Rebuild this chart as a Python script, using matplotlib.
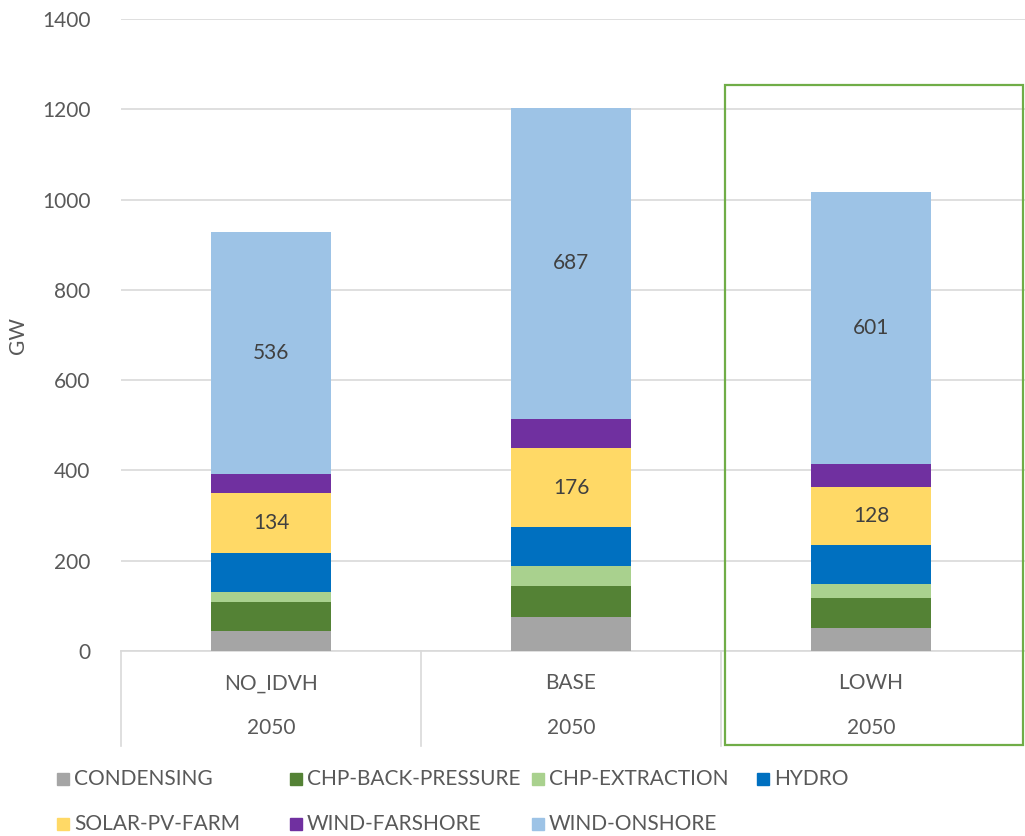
import numpy as np
import matplotlib.pyplot as plt
from matplotlib.patches import Rectangle
from matplotlib.transforms import blended_transform_factory

plt.rcParams['font.family'] = ['Lato', 'DejaVu Sans']

scenarios = ['NO_IDVH', 'BASE', 'LOWH']
years = ['2050', '2050', '2050']
techs = ['CONDENSING', 'CHP-BACK-PRESSURE', 'CHP-EXTRACTION', 'HYDRO',
         'SOLAR-PV-FARM', 'WIND-FARSHORE', 'WIND-ONSHORE']
colors = ['#A5A5A5', '#548235', '#A9D18E', '#0070C0',
          '#FFD966', '#7030A0', '#9DC3E6']

# installed capacity, GW
condensing = [44, 75, 50]
chp_bp = [64, 70, 67]
chp_ext = [23, 43, 31]
hydro = [86, 86, 87]
solar = [134, 176, 128]
farshore = [42, 65, 52]
onshore = [536, 687, 601]
labelled = {'SOLAR-PV-FARM', 'WIND-ONSHORE'}

series = [condensing, chp_bp, chp_ext, hydro, solar, farshore, onshore]

txt = '#595959'
W, H = 1025, 836
fig = plt.figure(figsize=(W / 100, H / 100), dpi=100)
ax = fig.add_axes([121 / W, (H - 651) / H, 904 / W, 632 / H])

x = np.arange(len(scenarios))
bottom = np.zeros(len(scenarios))
for name, vals, c in zip(techs, series, colors):
    vals = np.array(vals, dtype=float)
    ax.bar(x, vals, 0.4, bottom=bottom, color=c, label=name, zorder=3)
    if name in labelled:
        for xi, b, v in zip(x, bottom, vals):
            ax.text(xi, b + v / 2, f'{v:.0f}', ha='center', va='center',
                    fontsize=15, color='#404040', zorder=4)
    bottom += vals

ax.set_xlim(-0.5, 2.513)
ax.set_ylim(0, 1400)
ax.set_yticks(range(0, 1401, 200))
ax.yaxis.grid(True, color='#D9D9D9', lw=1.2, zorder=0)
ax.tick_params(axis='y', length=0, labelsize=15, labelcolor=txt, pad=22)
ax.set_xticks([])
for s in ['top', 'right', 'left']:
    ax.spines[s].set_visible(False)
ax.spines['bottom'].set_color('#D9D9D9')
ax.spines['bottom'].set_linewidth(1.2)
ax.set_ylabel('GW', fontsize=15, color=txt)
ax.yaxis.set_label_coords(-93 / 904, 0.5)

# two-level category axis
tr = blended_transform_factory(ax.transData, ax.transAxes)
for xi, sc, yr in zip(x, scenarios, years):
    ax.text(xi, -0.051, sc, transform=tr, ha='center', va='center',
            fontsize=15, color=txt)
    ax.text(xi, -0.122, yr, transform=tr, ha='center', va='center',
            fontsize=15, color=txt)
for xs in [-0.5, 0.5, 1.5]:
    ax.plot([xs, xs], [0, -0.15], transform=tr, color='#D9D9D9', lw=1.2,
            clip_on=False)

# highlight box around the last scenario
ax.add_patch(Rectangle((1.513, -0.149), 0.994, 0.896 + 0.149, transform=tr,
                       fill=False, edgecolor='#70AD47', lw=1.6,
                       clip_on=False, zorder=5))

# legend laid out row by row, four slots per row
col_x = [57, 290, 532, 757]
row_y = [779, 824]
for i, (name, c) in enumerate(zip(techs, colors)):
    px, py = col_x[i % 4], row_y[i // 4]
    fig.patches.append(Rectangle((px / W, (H - py - 6) / H), 12 / W, 12 / H,
                                 transform=fig.transFigure, color=c))
    fig.text((px + 17) / W, (H - py) / H, name, ha='left', va='center',
             fontsize=15, color=txt)

fig.savefig('out.png', dpi=100)
